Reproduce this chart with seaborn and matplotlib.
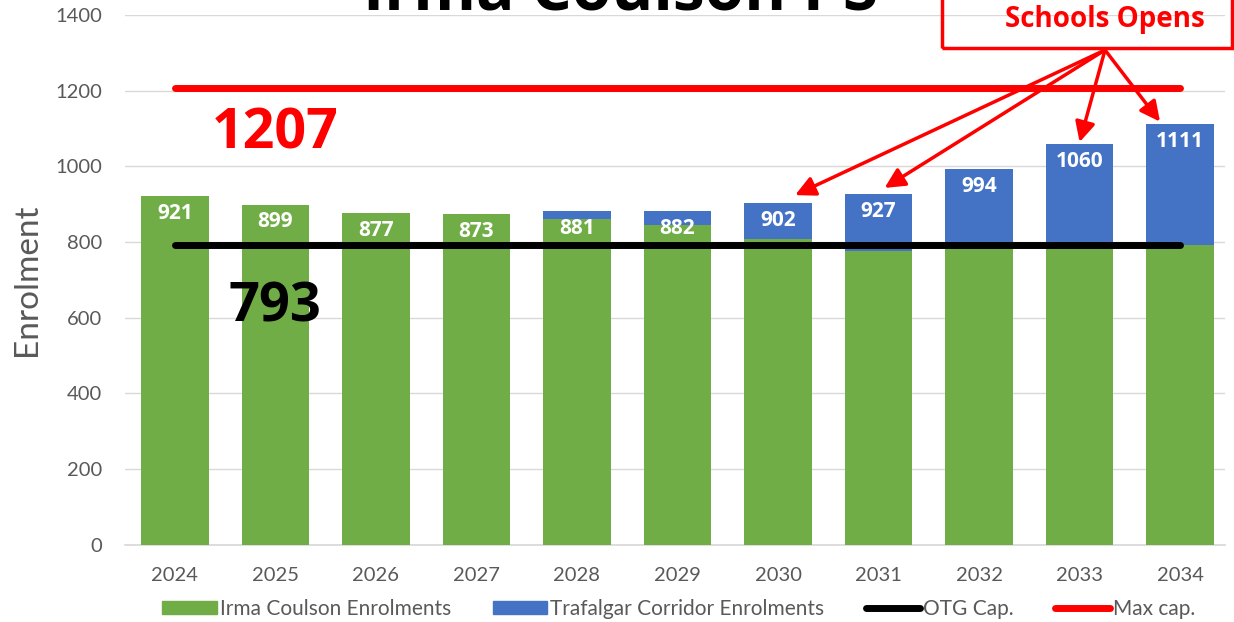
import numpy as np
import pandas as pd
import seaborn as sns
import matplotlib.pyplot as plt
from matplotlib.patches import Rectangle, Patch
from matplotlib.lines import Line2D

years = ['2024', '2025', '2026', '2027', '2028', '2029', '2030', '2031', '2032', '2033', '2034']
irma = [921, 899, 877, 873, 862, 845, 808, 777, 786, 788, 793]
totals = [921, 899, 877, 873, 881, 882, 902, 927, 994, 1060, 1111]
otg_cap = 793
max_cap = 1207
arrow_years = ['2030', '2031', '2033', '2034']

green = '#70ad47'
blue = '#4472c4'
grey = '#595959'

sns.set_theme(style='white')
plt.rcParams['font.family'] = ['Lato', 'DejaVu Sans']

data = pd.DataFrame({'year': years, 'irma': irma, 'total': totals})

fig = plt.figure(figsize=(12.34, 6.22), dpi=100)
ax = fig.add_axes([0.101, 0.124, 0.892, 0.852])

# blue = total, green drawn over it -> stacked look
sns.barplot(data=data, x='year', y='total', color=blue, saturation=1, width=0.67,
            linewidth=0, ax=ax, zorder=2)
sns.barplot(data=data, x='year', y='irma', color=green, saturation=1, width=0.67,
            linewidth=0, ax=ax, zorder=3)

for i, t in enumerate(totals):
    ax.text(i, t - 46, str(t), ha='center', va='center', color='white',
            fontsize=15, fontweight='bold', family='Open Sans', zorder=5)

n = len(years) - 1
ax.hlines(otg_cap, 0, n, color='black', lw=5, zorder=4, capstyle='round')
ax.hlines(max_cap, 0, n, color='#ff0000', lw=5, zorder=4, capstyle='round')

ax.text(1.0, max_cap - 122, str(max_cap), color='#ff0000', fontsize=40,
        fontweight='bold', family='Open Sans', ha='center', va='center')
ax.text(1.0, otg_cap - 165, str(otg_cap), color='black', fontsize=39,
        fontweight='bold', family='Open Sans', ha='center', va='center', zorder=6)

ax.set_ylim(0, 1400)
ax.set_xlim(-0.5, n + 0.45)
ax.set_yticks(range(0, 1401, 200))
ax.yaxis.grid(True, color='#d9d9d9', lw=1)
ax.set_axisbelow(True)
for s in ['top', 'right', 'left']:
    ax.spines[s].set_visible(False)
ax.spines['bottom'].set_color('#d9d9d9')
ax.tick_params(axis='both', colors=grey, labelsize=14.5, length=0)
ax.tick_params(axis='x', pad=16)
ax.tick_params(axis='y', pad=16)
ax.set_xlabel('')
ax.set_ylabel('Enrolment', color=grey, fontsize=24)
ax.yaxis.set_label_coords(-0.075, 0.5)

# title, cut off at top like the original
fig.text(0.503, 1.012, 'Irma Coulson PS', ha='center', va='center',
         fontsize=46, fontweight='bold', family='Open Sans', color='black')

# "Schools Opens" box with arrows
fig.add_artist(Rectangle((942 / 1234, 1 - 48 / 622), 290 / 1234, 0.2,
                         transform=fig.transFigure, fill=False,
                         edgecolor='#ff0000', lw=2.5, zorder=10))
fig.text(1105 / 1234, 1 - 20 / 622, 'Schools Opens', ha='center', va='center',
         color='#ff0000', fontsize=20, fontweight='bold', family='Open Sans')

tips = {'2030': (0.17, 924), '2031': (0.06, 943), '2033': (0.0, 1064), '2034': (-0.2, 1118)}
for y in arrow_years:
    i = years.index(y)
    dx, dy = tips[y]
    ax.annotate('', xy=(i + dx, dy), xytext=(1105 / 1234, 1 - 50 / 622),
                xycoords='data', textcoords='figure fraction',
                arrowprops=dict(arrowstyle='-|>', color='#ff0000', lw=2.5,
                                mutation_scale=30, shrinkA=0, shrinkB=0),
                annotation_clip=False, zorder=10)

handles = [Patch(color=green, label='Irma Coulson Enrolments'),
           Patch(color=blue, label='Trafalgar Corridor Enrolments'),
           Line2D([], [], color='black', lw=5, label='OTG Cap.'),
           Line2D([], [], color='#ff0000', lw=5, label='Max cap.')]
leg = fig.legend(handles=handles, loc='center', bbox_to_anchor=(0.55, 1 - 609 / 622),
                 ncol=4, frameon=False, fontsize=15, handlelength=2.6,
                 handleheight=0.6, handletextpad=0.15, columnspacing=2.0)
for t in leg.get_texts():
    t.set_color(grey)

fig.savefig('out.png', dpi=100)
